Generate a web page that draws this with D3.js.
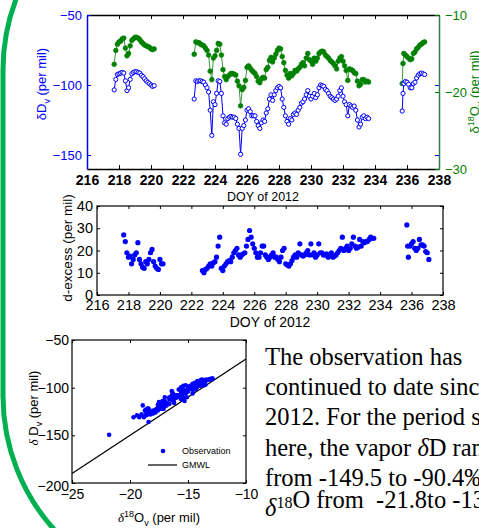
<!DOCTYPE html>
<html><head><meta charset="utf-8">
<script src="https://cdn.jsdelivr.net/npm/d3@7"></script>
<style>body{margin:0;background:#fff}svg{display:block}text{white-space:pre}</style>
</head><body>
<svg id="c" width="479" height="528"></svg>
<script>
// ---------- data ----------
const doy = [
 217.7,217.8,217.9,218.0,218.1,218.2,218.3,218.4,218.5,218.6,218.7,218.8,218.9,219.0,219.1,219.2,219.3,219.4,219.5,219.6,219.7,219.8,219.9,220.0,220.1,220.2,
 222.7,222.8,222.9,223.0,223.1,223.2,223.3,223.4,223.5,223.6,
 223.7,223.8,223.9,224.0,224.1,224.2,224.3,224.4,224.5,224.6,
 224.7,224.8,224.9,225.0,225.1,225.2,225.3,225.4,225.5,225.6,
 225.7,225.8,225.9,226.0,226.1,226.2,226.3,226.4,226.5,226.6,
 226.7,226.8,226.9,227.0,227.1,227.2,227.3,227.4,227.5,227.6,
 227.7,227.8,227.9,228.0,228.1,228.2,228.3,228.4,228.5,228.6,
 228.7,228.8,228.9,229.0,229.1,229.2,229.3,229.4,229.5,229.6,
 229.7,229.8,229.9,230.0,230.1,230.2,230.3,230.4,230.5,230.6,
 230.7,230.8,230.9,231.0,231.1,231.2,231.3,231.4,231.5,231.6,
 231.7,231.8,231.9,232.0,232.1,232.2,232.3,232.4,232.5,232.6,
 232.7,232.8,232.9,233.0,233.1,233.2,233.3,233.4,233.5,233.6,
 235.7,235.75,235.8,235.9,236.0,236.1,236.2,236.3,236.4,236.5,236.6,236.7,236.8,236.9,237.0,237.1
];
const dD = [
 -103.5,-96,-92.5,-92,-91.5,-91,-91.5,-97,-104,-102,-96,-92,-91,-90.5,-90.5,-91,-91.5,-93,-94,-95.5,-97,-98,-99,-100,-101,-100.5,
 -110,-97,-97.5,-97,-97,-97.5,-98,-100,-102,-105,
 -118,-136,-112,-114,-106,-97,-97.5,-106,-122,-127,
 -128,-124,-123,-122.5,-123,-123,-124,-128,-131,-149.5,
 -131,-129,-125,-118,-117,-119,-122,-122,-122,-126,
 -129,-131,-127,-125,-126,-120,-117,-110,-107,-111,
 -107,-104,-102,-101,-102,-110,-116,-122,-126,-128,
 -124,-125,-121,-120,-121,-118,-116,-113,-112,-110,
 -107,-104,-108,-110,-108,-106,-109,-107,-102,-100,
 -100.5,-101,-103,-104,-106,-108,-109,-110,-111,-110,
 -108,-104,-102,-108,-112,-114,-122,-114,-115,-116,
 -115,-118,-125,-130,-128,-123,-122,-124,-123,-124,
 -118.6,-106,-99,-97.5,-98,-99.5,-102,-102,-99,-98,-95,-93,-92,-91.5,-92,-92.5
];
const d18O = [
 -16.4,-14.6,-13.8,-13.5,-13.4,-13.1,-13.0,-14.3,-15.3,-15.0,-14.0,-13.3,-13.1,-12.9,-12.9,-13.0,-13.2,-13.5,-13.7,-13.9,-14.0,-14.1,-14.2,-14.4,-14.5,-14.4,
 -15.1,-13.5,-13.6,-13.6,-13.8,-13.9,-14.0,-14.3,-14.6,-15.2,
 -17.3,-18.4,-15.6,-15.3,-14.6,-13.7,-13.8,-15.2,-17.1,-18.0,
 -18.4,-18.0,-17.8,-17.6,-17.6,-17.7,-17.8,-18.6,-19.2,-21.8,
 -19.7,-19.4,-18.5,-16.8,-16.6,-16.9,-17.2,-17.4,-17.6,-18.0,
 -18.6,-18.8,-18.3,-18.1,-18.2,-17.1,-16.8,-15.9,-15.5,-16.1,
 -15.6,-15.1,-14.6,-14.3,-14.4,-15.4,-16.2,-17.2,-17.8,-18.2,
 -17.6,-17.9,-17.6,-17.2,-17.3,-17.0,-16.8,-16.4,-16.2,-16.6,
 -15.6,-15.0,-15.8,-16.0,-16.4,-15.6,-16.0,-15.6,-15.0,-14.8,
 -14.7,-14.8,-15.2,-15.4,-15.6,-15.9,-16.1,-16.3,-16.6,-17.0,
 -16.0,-15.6,-15.4,-16.0,-16.6,-17.2,-18.5,-17.0,-17.1,-17.2,
 -17.5,-17.6,-18.6,-19.2,-19.0,-18.4,-18.4,-18.7,-18.6,-18.7,
 -18.9,-16.3,-15.0,-15.2,-15.4,-15.6,-15.8,-15.7,-15.0,-14.8,-14.4,-14.2,-13.9,-13.8,-13.6,-13.5
];
const dex = [
 27,24,19,17,17.5,14,16,18,19,23.5,16,14,12.5,12,15,14,16,19,20.5,15,13,12,11.5,16,14,14,
 11,10,11.5,12,13,14,13,14.5,15,17,
 22,26,12,11,13,14,15,15.5,15,17,
 19,20,21,18,17,18,18.5,19,22,25,
 29,26,23,21,19,17,17,19,22,22,
 18,17,16,17,18,19,17,17,16,15,
 17,20,21,14,13.5,13,14,15.5,17,18,
 17,19,23,18,17.5,18,19,20,18,23,
 18,19,17,18,23,19,19,18,18,18.5,
 17,18,19,17,17.5,18,19,20,21,26,
 20,21,22,20,21,23,26,22,21,21.5,
 25,22,24,23.5,24,24,25,26,25.5,25.5,
 31.5,22,17,22,23,24,21,20,21,25,22.5,22.5,22,19.5,19,16
];
const doyTicks = [216,218,220,222,224,226,228,230,232,234,236,238];
const dDTicks = [-150,-100,-50];
const d18Ticks = [-30,-20,-10];
const dexTicks = [0,10,20,30,40];
const scX = [-25,-20,-15,-10];
const scY = [-200,-150,-100,-50];
const gmwlX = [-25,-10];
const gmwlY = [-190,-70];
const textLines = ["The observation has","continued to date since","2012. For the period shown","here, the vapor |δ|D ranges","from -149.5 to -90.4‰","|δ|^18^O from  -21.8to -13.1‰"];

// ---------- setup ----------
const svg = d3.select('#c');
const F = 'Liberation Sans, Arial, Helvetica, sans-serif';
const BLUE = '#0000ff', GREEN = '#008000';
svg.append('rect').attr('width',479).attr('height',528).attr('fill','#fff');
svg.append('rect').attr('x',3).attr('y',-130).attr('width',1000).attr('height',726)
  .attr('rx',200).attr('ry',200).attr('fill','none').attr('stroke','#00b050').attr('stroke-width',5);

const idx = d3.range(doy.length);
const segs = [];
idx.forEach(i => { if (i===0 || doy[i]-doy[i-1] > 1) segs.push([]); segs[segs.length-1].push(i); });

function styleAxis(g, color, size, weight){
  g.selectAll('path.domain').attr('stroke',color);
  g.selectAll('.tick line').attr('stroke',color);
  g.selectAll('.tick text').attr('fill',color).attr('font-size',size).attr('font-family',F).attr('font-weight',weight||'normal');
}

// ---------- chart 1 ----------
const x1 = d3.scaleLinear().domain([216,238]).range([87,439]);
const yL = d3.scaleLinear().domain([-160,-50]).range([169,15]);
const yR = d3.scaleLinear().domain([-30,-10]).range([169,15]);
const c1 = svg.append('g');

const lineL = d3.line().x(i=>x1(doy[i])).y(i=>yL(dD[i]));
const lineR = d3.line().x(i=>x1(doy[i])).y(i=>yR(d18O[i]));
segs.forEach(s=>{
  c1.append('path').attr('d',lineR(s)).attr('fill','none').attr('stroke','#3a9a3a').attr('stroke-width',1);
});
c1.selectAll('circle.g').data(idx).enter().append('circle').attr('class','g')
  .attr('cx',i=>x1(doy[i])).attr('cy',i=>yR(d18O[i])).attr('r',2.4).attr('fill',GREEN).attr('stroke',GREEN).attr('stroke-width',0.6);
segs.forEach(s=>{
  c1.append('path').attr('d',lineL(s)).attr('fill','none').attr('stroke',BLUE).attr('stroke-width',1);
});
c1.selectAll('circle.b').data(idx).enter().append('circle').attr('class','b')
  .attr('cx',i=>x1(doy[i])).attr('cy',i=>yL(dD[i])).attr('r',2.1).attr('fill','#fff').attr('stroke',BLUE).attr('stroke-width',1);

let g;
g = c1.append('g').attr('transform','translate(0,169)')
  .call(d3.axisBottom(x1).tickValues(doyTicks).tickFormat(d3.format('d')).tickSizeInner(-4).tickSizeOuter(0).tickPadding(6));
styleAxis(g,'#000',14,'bold'); g.selectAll('path.domain').attr('stroke-width',1.5);
g = c1.append('g').attr('transform','translate(0,15)')
  .call(d3.axisTop(x1).tickValues(doyTicks).tickFormat('').tickSizeInner(-4).tickSizeOuter(0));
styleAxis(g,'#000',14); g.selectAll('path.domain').attr('stroke-width',1.5);
g = c1.append('g').attr('transform','translate(87,0)')
  .call(d3.axisLeft(yL).tickValues(dDTicks).tickSizeInner(-4).tickSizeOuter(0).tickPadding(5));
styleAxis(g,BLUE,13); g.selectAll('path.domain').attr('stroke-width',1.5);
g = c1.append('g').attr('transform','translate(439,0)')
  .call(d3.axisLeft(yL).tickValues(dDTicks).tickFormat('').tickSizeInner(4).tickSizeOuter(0));
styleAxis(g,BLUE,13); g.select('path.domain').remove();
g = c1.append('g').attr('transform','translate(439,0)')
  .call(d3.axisRight(yR).tickValues(d18Ticks).tickSizeInner(-4).tickSizeOuter(0).tickPadding(6));
styleAxis(g,GREEN,13); g.selectAll('path.domain').attr('stroke','#2e7d4f').attr('stroke-width',1.5);

c1.append('text').attr('x',263).attr('y',201).attr('text-anchor','middle').attr('font-family',F).attr('font-size',12.5).text('DOY of 2012');
let t = c1.append('text').attr('transform','translate(46,84) rotate(-90)').attr('text-anchor','middle')
  .attr('font-family',F).attr('font-size',13).attr('fill',BLUE);
t.append('tspan').text('δD');
t.append('tspan').attr('font-size',9).attr('dy',4).text('v');
t.append('tspan').attr('dy',-4).text(' (per mil)');
t = c1.append('text').attr('transform','translate(479,92) rotate(-90)').attr('text-anchor','middle')
  .attr('font-family',F).attr('font-size',13).attr('fill',GREEN);
t.append('tspan').text('δ');
t.append('tspan').attr('font-size',9).attr('dy',-5).text('18');
t.append('tspan').attr('dy',5).text('O');
t.append('tspan').attr('font-size',9).attr('dy',4).text('v');
t.append('tspan').attr('dy',-4).text(' (per mil)');

// ---------- chart 2 ----------
const x2 = d3.scaleLinear().domain([216,238]).range([97,443]);
const y2 = d3.scaleLinear().domain([0,40]).range([295,206]);
const c2 = svg.append('g');
c2.append('rect').attr('x',97).attr('y',206).attr('width',346).attr('height',89).attr('fill','none').attr('stroke','#000').attr('stroke-width',1.2);
g = c2.append('g').attr('transform','translate(0,295)')
  .call(d3.axisBottom(x2).tickValues(doyTicks).tickFormat(d3.format('d')).tickSizeInner(-3).tickSizeOuter(0).tickPadding(5));
styleAxis(g,'#000',14.5); g.select('path.domain').remove();
g = c2.append('g').attr('transform','translate(0,206)')
  .call(d3.axisTop(x2).tickValues(doyTicks).tickFormat('').tickSizeInner(-3).tickSizeOuter(0));
styleAxis(g,'#000',14); g.select('path.domain').remove();
g = c2.append('g').attr('transform','translate(97,0)')
  .call(d3.axisLeft(y2).tickValues(dexTicks).tickSizeInner(-3).tickSizeOuter(0).tickPadding(4));
styleAxis(g,'#000',14.5); g.select('path.domain').remove();
g = c2.append('g').attr('transform','translate(443,0)')
  .call(d3.axisRight(y2).tickValues(dexTicks).tickFormat('').tickSizeInner(-3).tickSizeOuter(0));
styleAxis(g,'#000',14); g.select('path.domain').remove();
c2.selectAll('circle').data(idx).enter().append('circle')
  .attr('cx',i=>x2(doy[i])).attr('cy',i=>y2(dex[i])).attr('r',2.6).attr('fill',BLUE);
c2.append('text').attr('x',270).attr('y',327).attr('text-anchor','middle').attr('font-family',F).attr('font-size',14).text('DOY of 2012');
c2.append('text').attr('transform','translate(72,248) rotate(-90)').attr('text-anchor','middle')
  .attr('font-family',F).attr('font-size',13.5).text('d-excess (per mil)');

// ---------- chart 3 ----------
const x3 = d3.scaleLinear().domain([-25,-10]).range([72,246]);
const y3 = d3.scaleLinear().domain([-200,-50]).range([483,340]);
const c3 = svg.append('g');
c3.append('rect').attr('x',72).attr('y',340).attr('width',174).attr('height',143).attr('fill','none').attr('stroke','#000').attr('stroke-width',1.2);
g = c3.append('g').attr('transform','translate(0,483)')
  .call(d3.axisBottom(x3).tickValues(scX).tickSizeInner(-3).tickSizeOuter(0).tickPadding(6));
styleAxis(g,'#000',14); g.select('path.domain').remove();
g = c3.append('g').attr('transform','translate(0,340)')
  .call(d3.axisTop(x3).tickValues(scX).tickFormat('').tickSizeInner(-3).tickSizeOuter(0));
styleAxis(g,'#000',14); g.select('path.domain').remove();
g = c3.append('g').attr('transform','translate(72,0)')
  .call(d3.axisLeft(y3).tickValues(scY).tickSizeInner(-3).tickSizeOuter(0).tickPadding(3));
styleAxis(g,'#000',14); g.select('path.domain').remove();
g.selectAll('.tick text').filter(d=>d===-200).attr('dy','0.5em');
g = c3.append('g').attr('transform','translate(246,0)')
  .call(d3.axisRight(y3).tickValues(scY).tickFormat('').tickSizeInner(-3).tickSizeOuter(0));
styleAxis(g,'#000',14); g.select('path.domain').remove();

c3.append('path').attr('d',d3.line().x(d=>x3(d[0])).y(d=>y3(d[1]))(gmwlX.map((v,i)=>[v,gmwlY[i]])))
  .attr('stroke','#000').attr('stroke-width',1.3).attr('fill','none');
c3.selectAll('circle.o').data(idx).enter().append('circle').attr('class','o')
  .attr('cx',i=>x3(d18O[i])).attr('cy',i=>y3(dD[i])).attr('r',2.3).attr('fill',BLUE);
// legend
c3.append('circle').attr('cx',163).attr('cy',451).attr('r',2.3).attr('fill',BLUE);
c3.append('text').attr('x',182).attr('y',454).attr('font-family',F).attr('font-size',9).text('Observation');
c3.append('line').attr('x1',148).attr('x2',177).attr('y1',465).attr('y2',465).attr('stroke','#000').attr('stroke-width',1.2);
c3.append('text').attr('x',182).attr('y',468).attr('font-family',F).attr('font-size',9).text('GMWL');
t = c3.append('text').attr('x',159).attr('y',522).attr('text-anchor','middle').attr('font-family',F).attr('font-size',13);
t.append('tspan').attr('font-style','italic').attr('font-family','Liberation Serif, serif').text('δ');
t.append('tspan').attr('font-size',9).attr('dy',-5).text('18');
t.append('tspan').attr('dy',5).text('O');
t.append('tspan').attr('font-size',9).attr('dy',4).text('v');
t.append('tspan').attr('dy',-4).text(' (per mil)');
t = c3.append('text').attr('transform','translate(38,408) rotate(-90)').attr('text-anchor','middle').attr('font-family',F).attr('font-size',13);
t.append('tspan').attr('font-style','italic').attr('font-family','Liberation Serif, serif').text('δ');
t.append('tspan').text(' D');
t.append('tspan').attr('font-size',9).attr('dy',4).text('v');
t.append('tspan').attr('dy',-4).text(' (per mil)');

// ---------- text block ----------
const tb = svg.append('g');
textLines.forEach((ln,k)=>{
  const tt = tb.append('text').attr('x',265).attr('y',365+k*30.2).attr('font-family','Liberation Serif, Times New Roman, serif').attr('font-size',24.5).attr('fill','#000');
  ln.split(/(\|δ\||\^18\^)/).filter(p=>p.length).forEach(p=>{
    if (p==='|δ|') tt.append('tspan').attr('font-style','italic').text('δ');
    else if (p==='^18^') { tt.append('tspan').attr('font-size',16).attr('dy',-8).text('18'); tt.append('tspan').attr('dy',8).text(''); }
    else tt.append('tspan').text(p);
  });
});
</script>
</body></html>
